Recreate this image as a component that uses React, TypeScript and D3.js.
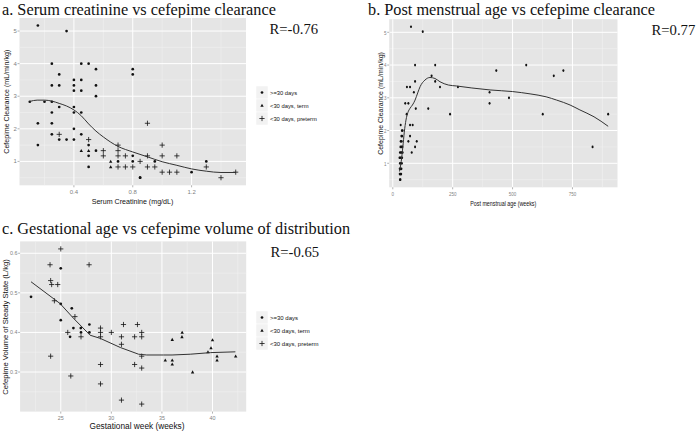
import React from 'react';
import * as d3 from 'd3';

type P = [number, number];

// ---------- Panel a: serum creatinine vs clearance ----------
const aDots: P[] = [
  [0.155, 5.17], [0.35, 5.0], [0.25, 4.0], [0.45, 4.0], [0.5, 4.0], [0.3, 3.67], [0.55, 3.83], [0.8, 3.83],
  [0.8, 3.67], [0.4, 3.5], [0.45, 3.5], [0.25, 3.33], [0.3, 3.33], [0.4, 3.33], [0.55, 3.33], [0.4, 3.17],
  [0.45, 3.17], [0.55, 3.0], [0.1, 2.83], [0.2, 2.83], [0.25, 2.83], [0.3, 2.67], [0.4, 2.67], [0.25, 2.5],
  [0.4, 2.5], [0.45, 2.5], [0.155, 2.17], [0.25, 2.17], [0.4, 2.0], [0.25, 1.83], [0.45, 1.83], [0.3, 1.67],
  [0.35, 1.67], [0.4, 1.67], [0.155, 1.5], [0.5, 1.5], [0.5, 1.17], [0.5, 0.83], [0.55, 1.33], [0.7, 1.0],
  [0.8, 1.17], [0.8, 1.0], [0.95, 1.0], [1.2, 0.67], [1.3, 1.0], [0.85, 0.5], [0.85, 0.5]
];
const aTerm: P[] = [[0.45, 1.33], [0.5, 1.33], [0.65, 1.0], [0.65, 0.83]];
const aPreterm: P[] = [
  [0.3, 1.83], [0.5, 1.67], [0.6, 1.33], [0.6, 1.17], [0.7, 1.5], [0.7, 1.33], [0.7, 1.17], [0.7, 0.83],
  [0.75, 1.17], [0.75, 0.83], [0.8, 0.83], [0.85, 1.0], [0.9, 2.17], [0.9, 1.17], [0.9, 0.83], [0.95, 0.83],
  [1.0, 1.5], [1.0, 1.17], [1.0, 0.67], [1.05, 0.67], [1.1, 1.17], [1.1, 0.67], [1.3, 0.83], [1.4, 0.5], [1.5, 0.67]
];
const aLoess: P[] = [
  [0.1, 2.84], [0.15, 2.88], [0.2, 2.88], [0.25, 2.85], [0.3, 2.78], [0.35, 2.7], [0.4, 2.58], [0.45, 2.4],
  [0.5, 2.15], [0.55, 1.93], [0.6, 1.75], [0.7, 1.46], [0.8, 1.29], [0.9, 1.14], [1.0, 0.99], [1.1, 0.88],
  [1.2, 0.77], [1.3, 0.7], [1.4, 0.66], [1.5, 0.66]
];
const aXTicks = [0.4, 0.8, 1.2];
const aXMinor = [0.2, 0.6, 1.0, 1.4];
const aYTicks = [1, 2, 3, 4, 5];
const aYMinor = [0.5, 1.5, 2.5, 3.5, 4.5];

// ---------- Panel b: post menstrual age vs clearance ----------
const bPoints: P[] = [
  [76, 5.17], [125, 5.02], [93, 4.0], [177, 4.0], [557, 4.0], [432, 3.83], [712, 3.83], [162, 3.67], [672, 3.67],
  [93, 3.5], [177, 3.5], [59, 3.33], [72, 3.33], [197, 3.33], [272, 3.33], [88, 3.17], [404, 3.17], [485, 3.0],
  [52, 2.83], [65, 2.83], [404, 2.83], [96, 2.67], [148, 2.67], [58, 2.5], [239, 2.5], [626, 2.5], [899, 2.5],
  [72, 2.17], [83, 2.17], [72, 1.83], [65, 1.67], [100, 1.67], [93, 1.5], [834, 1.5], [79, 1.33],
  [33, 2.17], [38, 2.0], [41, 2.0], [36, 1.83], [39, 1.83], [33, 1.67], [37, 1.67], [32, 1.5], [37, 1.5], [40, 1.5],
  [30, 1.33], [34, 1.33], [38, 1.33], [41, 1.33], [28, 1.17], [31, 1.17], [35, 1.17], [39, 1.17],
  [30, 1.0], [33, 1.0], [38, 1.0], [29, 0.83], [32, 0.83], [36, 0.83], [29, 0.67], [32, 0.67], [35, 0.67],
  [30, 0.5], [32, 0.5]
];
const bLoess: P[] = [
  [28, 0.75], [35, 1.05], [42, 1.5], [48, 1.95], [55, 2.32], [63, 2.55], [72, 2.68], [82, 2.78], [93, 2.93],
  [104, 3.15], [114, 3.34], [134, 3.54], [155, 3.62], [176, 3.59], [197, 3.49], [232, 3.39], [267, 3.36],
  [330, 3.3], [406, 3.24], [500, 3.19], [573, 3.12], [640, 3.03], [684, 2.93], [740, 2.78], [781, 2.63],
  [840, 2.42], [899, 2.13]
];
const bXTicks = [0, 250, 500, 750];
const bXMinor = [125, 375, 625, 875];
const bYTicks = [1, 2, 3, 4, 5];
const bYMinor = [0.5, 1.5, 2.5, 3.5, 4.5];

// ---------- Panel c: gestational age vs volume of distribution ----------
const cDots: P[] = [
  [25, 0.562], [22.06, 0.49], [25, 0.472], [26.09, 0.461], [25, 0.431], [27.83, 0.42], [26.25, 0.411],
  [26.98, 0.411], [27.0, 0.4], [27.83, 0.4], [25.92, 0.389]
];
const cTerm: P[] = [
  [35.33, 0.33], [36.02, 0.33], [36.02, 0.32], [36.02, 0.382], [36.98, 0.389], [37.0, 0.4], [38.03, 0.3],
  [39.55, 0.351], [39.85, 0.361], [40.0, 0.381], [40.45, 0.34], [40.45, 0.33], [42.29, 0.34]
];
const cPreterm: P[] = [
  [25, 0.611], [23.94, 0.571], [27.8, 0.571], [24, 0.531], [24.1, 0.521], [24.7, 0.521], [24.37, 0.48],
  [26.4, 0.44], [31.2, 0.42], [32.58, 0.42], [28.93, 0.411], [25.69, 0.4], [28.93, 0.4], [30.0, 0.4], [33.0, 0.4],
  [27.0, 0.389], [28.93, 0.389], [31.0, 0.389], [32.3, 0.389], [33.0, 0.389], [31.0, 0.37], [24, 0.34],
  [33.0, 0.34], [28.93, 0.319], [32.3, 0.319], [33.0, 0.31], [25.99, 0.29], [28.93, 0.27], [31.0, 0.229],
  [33.0, 0.219]
];
const cLoess: P[] = [
  [22.06, 0.528], [24.93, 0.473], [26.25, 0.436], [27.9, 0.393], [28.9, 0.385], [30.88, 0.362], [32.69, 0.345],
  [33.5, 0.343], [35.16, 0.343], [36.0, 0.343], [37.8, 0.345], [39.8, 0.349], [42.26, 0.351]
];
const cXTicks = [25, 30, 35, 40];
const cXMinor = [22.5, 27.5, 32.5, 37.5, 42.5];
const cYTicks = [0.3, 0.4, 0.5, 0.6];
const cYMinor = [0.25, 0.35, 0.45, 0.55];

const legendLabels = ['>=30 days', '<30 days, term', '<30 days, preterm'];

const SANS = "'Liberation Sans', Arial, sans-serif";
const SERIF = "'Liberation Serif', 'Times New Roman', serif";
const GREY50 = '#7f7f7f';

type Shape = 'dot' | 'tri' | 'plus';

function Marker({ x, y, shape, sx = 1 }: { x: number; y: number; shape: Shape; sx?: number }) {
  if (shape === 'dot') return <ellipse cx={x} cy={y} rx={1.35 * sx} ry={1.35} fill="#111" />;
  if (shape === 'tri') {
    const s = 1.7;
    return <path d={`M${x},${y - s}L${x + s},${y + s * 0.8}L${x - s},${y + s * 0.8}Z`} fill="#111" />;
  }
  const s = 2.6;
  return (
    <path d={`M${x - s * sx},${y}H${x + s * sx}M${x},${y - s}V${y + s}`} stroke="#111" strokeWidth={0.8} />
  );
}

interface PanelProps {
  rect: { l: number; r: number; t: number; b: number };
  xDomain: [number, number];
  yDomain: [number, number];
  xTicks: number[];
  xMinor: number[];
  yTicks: number[];
  yMinor: number[];
  xFmt: string;
  yFmt: string;
  series: { shape: Shape; data: P[] }[];
  loess: P[];
  xLabel: string;
  yLabel: string;
  xLabelPos: [number, number];
  yLabelPos: [number, number];
  labelSize: number;
  yLabelSize: number;
  tickSize: number;
  squish?: number;
  xLabelLength?: number;
  curve?: any;
}

function Panel(p: PanelProps) {
  const { l, r, t, b } = p.rect;
  const x = d3.scaleLinear().domain(p.xDomain).range([l, r]);
  const y = d3.scaleLinear().domain(p.yDomain).range([b, t]);
  const line = d3
    .line<P>()
    .x((d) => x(d[0]))
    .y((d) => y(d[1]))
    .curve(p.curve || d3.curveMonotoneX);
  const sq = p.squish || 1;
  const fx = d3.format(p.xFmt);
  const fy = d3.format(p.yFmt);
  return (
    <g>
      <rect x={l} y={t} width={r - l} height={b - t} fill="#e5e5e5" />
      {p.xMinor.map((v) => (
        <line key={'xm' + v} x1={x(v)} x2={x(v)} y1={t} y2={b} stroke="#f2f2f2" strokeWidth={0.5} />
      ))}
      {p.yMinor.map((v) => (
        <line key={'ym' + v} x1={l} x2={r} y1={y(v)} y2={y(v)} stroke="#f2f2f2" strokeWidth={0.5} />
      ))}
      {p.xTicks.map((v) => (
        <line key={'xM' + v} x1={x(v)} x2={x(v)} y1={t} y2={b} stroke="#fff" strokeWidth={1} />
      ))}
      {p.yTicks.map((v) => (
        <line key={'yM' + v} x1={l} x2={r} y1={y(v)} y2={y(v)} stroke="#fff" strokeWidth={1} />
      ))}
      {p.series.map((s, i) =>
        s.data.map((d, j) => <Marker key={i + '-' + j} x={x(d[0])} y={y(d[1])} shape={s.shape} sx={sq} />)
      )}
      <path d={line(p.loess) || ''} fill="none" stroke="#333" strokeWidth={1} />
      {p.xTicks.map((v) => (
        <g key={'xt' + v}>
          <line x1={x(v)} x2={x(v)} y1={b} y2={b + 2} stroke={GREY50} strokeWidth={0.6} />
          <text
            transform={`translate(${x(v)},${b + 8.5}) scale(${sq},1)`}
            textAnchor="middle"
            fontFamily={SANS}
            fontSize={p.tickSize}
            fill={GREY50}
          >
            {fx(v)}
          </text>
        </g>
      ))}
      {p.yTicks.map((v) => (
        <g key={'yt' + v}>
          <line x1={l - 2} x2={l} y1={y(v)} y2={y(v)} stroke={GREY50} strokeWidth={0.6} />
          <text
            transform={`translate(${l - 2.6},${y(v)}) scale(${sq},1)`}
            textAnchor="end"
            dominantBaseline="central"
            fontFamily={SANS}
            fontSize={p.tickSize}
            fill={GREY50}
          >
            {fy(v)}
          </text>
        </g>
      ))}
      <text
        x={p.xLabelPos[0]}
        y={p.xLabelPos[1]}
        textAnchor="middle"
        fontFamily={SANS}
        fontSize={p.labelSize}
        fill="#111"
        {...(p.xLabelLength ? { textLength: p.xLabelLength, lengthAdjust: 'spacingAndGlyphs' } : {})}
      >
        {p.xLabel}
      </text>
      <text
        transform={`translate(${p.yLabelPos[0]},${p.yLabelPos[1]}) rotate(-90)`}
        textAnchor="middle"
        dominantBaseline="central"
        fontFamily={SANS}
        fontSize={p.yLabelSize}
        fill="#111"
      >
        {p.yLabel}
      </text>
    </g>
  );
}

function Legend({ x, y, size }: { x: number; y: number; size: number }) {
  const shapes: Shape[] = ['dot', 'tri', 'plus'];
  const h = 13;
  return (
    <g>
      {shapes.map((s, i) => (
        <g key={s}>
          <rect x={x} y={y + i * h} width={12} height={h} fill="#f2f2f2" stroke="#fff" strokeWidth={0.5} />
          <Marker x={x + 6} y={y + i * h + h / 2} shape={s} />
          <text
            x={x + 14}
            y={y + i * h + h / 2}
            dominantBaseline="central"
            fontFamily={SANS}
            fontSize={size}
            fill="#111"
          >
            {legendLabels[i]}
          </text>
        </g>
      ))}
    </g>
  );
}

export default function App() {
  return (
    <svg
      width={696}
      height={431}
      viewBox="0 0 696 431"
      style={{ position: 'absolute', left: 0, top: 0, background: '#fff' }}
    >
      <rect width={696} height={431} fill="#fff" />
      <text x={2} y={14.5} fontFamily={SERIF} fontSize={16.3} fill="#111">
        a. Serum creatinine vs cefepime clearance
      </text>
      <text x={368} y={14.5} fontFamily={SERIF} fontSize={16.3} fill="#111">
        b. Post menstrual age vs cefepime clearance
      </text>
      <text x={2} y={233.5} fontFamily={SERIF} fontSize={16.3} fill="#111">
        c. Gestational age vs cefepime volume of distribution
      </text>
      <text x={269.5} y={34} fontFamily={SERIF} fontSize={14.7} fill="#111">R=-0.76</text>
      <text x={651.5} y={35} fontFamily={SERIF} fontSize={14.7} fill="#111">R=0.77</text>
      <text x={270.5} y={257.3} fontFamily={SERIF} fontSize={14.7} fill="#111">R=-0.65</text>

      <Panel
        rect={{ l: 19.5, r: 246, t: 18, b: 185.3 }}
        xDomain={[0.03, 1.57]}
        yDomain={[0.267, 5.4]}
        xTicks={aXTicks}
        xMinor={aXMinor}
        yTicks={aYTicks}
        yMinor={aYMinor}
        xFmt=".1f"
        yFmt="d"
        series={[
          { shape: 'dot', data: aDots },
          { shape: 'tri', data: aTerm },
          { shape: 'plus', data: aPreterm }
        ]}
        loess={aLoess}
        xLabel="Serum Creatinine (mg/dL)"
        yLabel="Cefepime Clearance (mL/min/kg)"
        xLabelPos={[132.5, 204.3]}
        yLabelPos={[7, 101.7]}
        labelSize={7.1}
        yLabelSize={7.1}
        tickSize={6}
      />
      <Legend x={256} y={86} size={5.8} />

      <Panel
        rect={{ l: 389.2, r: 617.5, t: 19.2, b: 187.3 }}
        xDomain={[-15, 938]}
        yDomain={[0.267, 5.4]}
        xTicks={bXTicks}
        xMinor={bXMinor}
        yTicks={bYTicks}
        yMinor={bYMinor}
        xFmt="d"
        yFmt="d"
        series={[{ shape: 'dot', data: bPoints }]}
        loess={bLoess}
        xLabel="Post menstrual age (weeks)"
        yLabel="Cefepime Clearance (mL/min/kg)"
        xLabelPos={[503.3, 205.8]}
        yLabelPos={[380, 103.5]}
        labelSize={7}
        yLabelSize={7}
        tickSize={6}
        squish={0.75}
        xLabelLength={66}
      />

      <Panel
        rect={{ l: 20.1, r: 246.2, t: 241.4, b: 411.6 }}
        xDomain={[20.98, 43.33]}
        yDomain={[0.2, 0.63]}
        xTicks={cXTicks}
        xMinor={cXMinor}
        yTicks={cYTicks}
        yMinor={cYMinor}
        xFmt="d"
        yFmt=".1f"
        series={[
          { shape: 'dot', data: cDots },
          { shape: 'tri', data: cTerm },
          { shape: 'plus', data: cPreterm }
        ]}
        loess={cLoess}
        xLabel="Gestational week (weeks)"
        yLabel="Cefepime Volume of Steady State (L/kg)"
        xLabelPos={[137, 429.3]}
        yLabelPos={[5, 327]}
        labelSize={8.3}
        yLabelSize={7.6}
        tickSize={5.4}
        curve={d3.curveLinear}
      />
      <Legend x={256} y={311} size={6} />
    </svg>
  );
}
